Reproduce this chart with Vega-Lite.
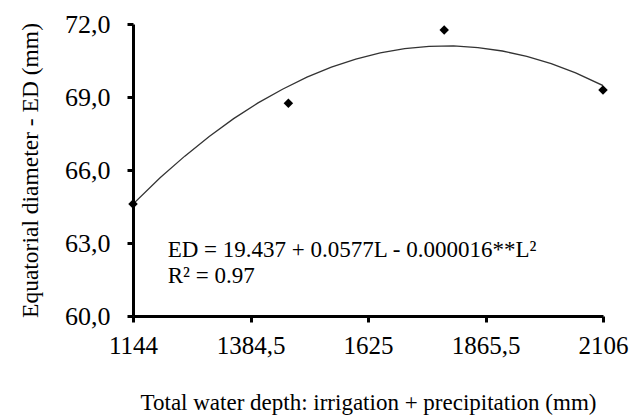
{
  "$schema": "https://vega.github.io/schema/vega-lite/v6.json",
  "width": 470,
  "height": 292,
  "autosize": "none",
  "padding": {"left": 133, "top": 24, "right": 27, "bottom": 103},
  "background": "white",
  "config": {
    "view": {"stroke": null},
    "font": "Liberation Serif, Times New Roman, serif",
    "axis": {"grid": false, "domainColor": "black", "tickColor": "black", "domainWidth": 3, "tickWidth": 3, "tickSize": 6, "labelColor": "black", "titleColor": "black", "titleFontWeight": "normal"}
  },
  "datasets": {
    "obs": [
      {"L": 1144, "ED": 64.6},
      {"L": 1462, "ED": 68.74},
      {"L": 1781, "ED": 71.75},
      {"L": 2106, "ED": 69.29}
    ],
    "fit": [
      {"L": 1144, "ED": 64.6},
      {"L": 1200, "ED": 65.69},
      {"L": 1250, "ED": 66.57},
      {"L": 1300, "ED": 67.38},
      {"L": 1350, "ED": 68.11},
      {"L": 1400, "ED": 68.76},
      {"L": 1450, "ED": 69.32},
      {"L": 1500, "ED": 69.82},
      {"L": 1550, "ED": 70.23},
      {"L": 1600, "ED": 70.56},
      {"L": 1650, "ED": 70.81},
      {"L": 1700, "ED": 70.99},
      {"L": 1750, "ED": 71.08},
      {"L": 1800, "ED": 71.1},
      {"L": 1850, "ED": 71.03},
      {"L": 1900, "ED": 70.89},
      {"L": 1950, "ED": 70.67},
      {"L": 2000, "ED": 70.37},
      {"L": 2050, "ED": 69.99},
      {"L": 2106, "ED": 69.47}
    ],
    "notes": [
      {"L": 1215, "ED": 62.42, "txt": "ED = 19.437 + 0.0577L  - 0.000016**L²"},
      {"L": 1215, "ED": 61.35, "txt": "R² = 0.97"}
    ]
  },
  "layer": [
    {
      "data": {"name": "fit"},
      "mark": {"type": "line", "color": "#333333", "strokeWidth": 1.3, "clip": true},
      "encoding": {
        "x": {"field": "L", "type": "quantitative", "scale": {"domain": [1144, 2106], "nice": false, "zero": false},
          "axis": {"values": [1144, 1384.5, 1625, 1865.5, 2106], "labelExpr": "replace(toString(datum.value), '.', ',')", "title": "Total water depth: irrigation  + precipitation (mm)", "labelFont": "Liberation Serif, Times New Roman, serif", "titleFont": "Liberation Serif, Times New Roman, serif", "labelFontSize": 25, "titleFontSize": 23, "labelPadding": 11, "titlePadding": 33, "labelFlush": false}},
        "y": {"field": "ED", "type": "quantitative", "scale": {"domain": [60, 72], "nice": false, "zero": false},
          "axis": {"values": [60, 63, 66, 69, 72], "labelExpr": "replace(format(datum.value, '.1f'), '.', ',')", "title": "Equatorial  diameter - ED (mm)", "labelFont": "Liberation Serif, Times New Roman, serif", "titleFont": "Liberation Serif, Times New Roman, serif", "labelFontSize": 26, "titleFontSize": 23.5, "labelPadding": 17, "titlePadding": 22}}
      }
    },
    {
      "data": {"name": "obs"},
      "mark": {"type": "point", "shape": "diamond", "filled": true, "color": "black", "size": 90, "opacity": 1},
      "encoding": {
        "x": {"field": "L", "type": "quantitative"},
        "y": {"field": "ED", "type": "quantitative"}
      }
    },
    {
      "data": {"name": "notes"},
      "mark": {"type": "text", "align": "left", "baseline": "alphabetic", "fontSize": 23, "font": "Liberation Serif, Times New Roman, serif", "color": "black"},
      "encoding": {
        "x": {"field": "L", "type": "quantitative"},
        "y": {"field": "ED", "type": "quantitative"},
        "text": {"field": "txt"}
      }
    }
  ]
}
